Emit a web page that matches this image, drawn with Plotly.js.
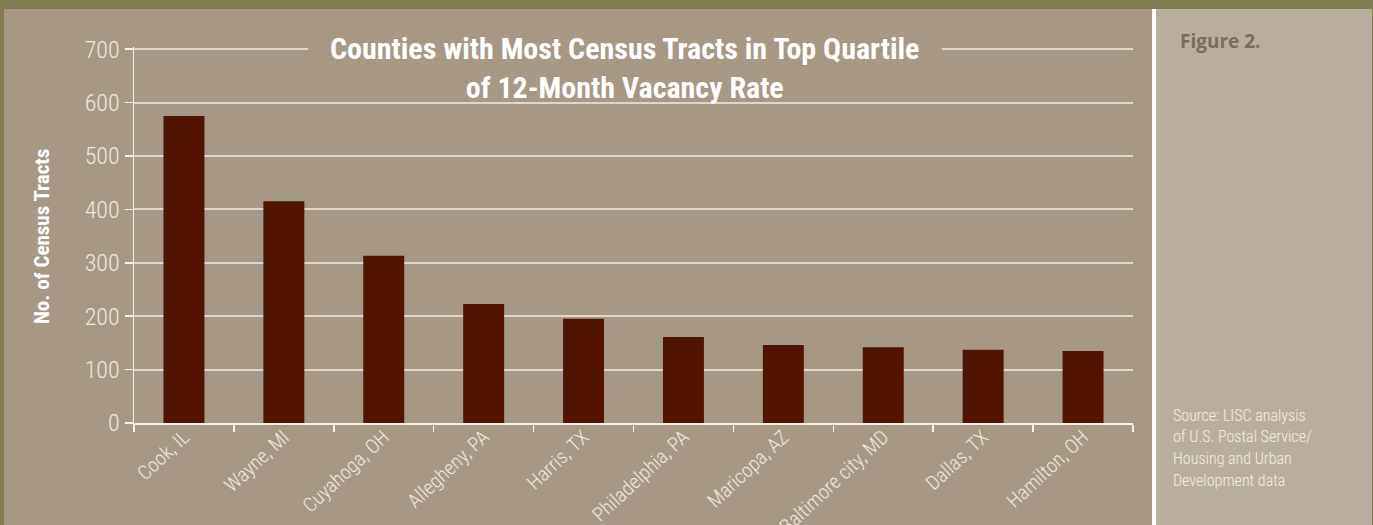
<!DOCTYPE html>
<html>
<head>
<meta charset="utf-8">
<script src="https://cdn.plot.ly/plotly-3.0.1.min.js"></script>
<style>
html,body{margin:0;padding:0;background:#807c52;}
#chart{width:1373px;height:525px;}
</style>
</head>
<body>
<div id="chart"></div>
<script>
const counties = ["Cook, IL","Wayne, MI","Cuyahoga, OH","Allegheny, PA","Harris, TX","Philadelphia, PA","Maricopa, AZ","Baltimore city, MD","Dallas, TX","Hamilton, OH"];
const tracts = [575, 415, 313, 223, 195, 161, 146, 142, 137, 135];
const yTicks = [0, 100, 200, 300, 400, 500, 600, 700];
const chartTitle = "Counties with Most Census Tracts in Top Quartile<br>of 12-Month Vacancy Rate";
const yTitle = "No. of Census Tracts";
const figureLabel = "Figure 2.";
const sourceLines = ["Source: LISC analysis", "of U.S. Postal Service/", "Housing and Urban", "Development data"];

const W = 1373, H = 525;
const px = v => v / W;
const py = v => (H - v) / H;

const NARROW = "'Roboto Condensed', 'DejaVu Sans Condensed', 'Liberation Sans', sans-serif";
const light = "#efe9e2";
const BG = "#a69885";

const annotations = [
  {text: chartTitle, xref: "paper", yref: "paper", x: px(624), y: py(68), xanchor: "center", yanchor: "middle",
   showarrow: false, align: "center",
   font: {family: NARROW, size: 30, color: "#ffffff", weight: 700}},
  {text: yTitle, xref: "paper", yref: "paper", x: px(42), y: py(237), xanchor: "center", yanchor: "middle",
   showarrow: false, textangle: -90,
   font: {family: NARROW, size: 21, color: "#ffffff", weight: 700}},
  {text: figureLabel, xref: "paper", yref: "paper", x: px(1178), y: py(41), xanchor: "left", yanchor: "middle",
   showarrow: false, font: {family: "'Open Sans', 'Noto Sans', sans-serif", size: 19, color: "#7d6c5b", weight: 700}}
];
sourceLines.forEach((t, i) => {
  annotations.push({text: t, xref: "paper", yref: "paper", x: px(1171), y: py(415 + i * 21.7), xanchor: "left", yanchor: "middle",
    showarrow: false, font: {family: NARROW, size: 16, color: "#f3eee7", weight: 300}});
});

const shapes = [
  {type: "rect", xref: "paper", yref: "paper", x0: px(4), x1: px(1152), y0: 0, y1: py(9), fillcolor: BG, line: {width: 0}, layer: "below"},
  {type: "rect", xref: "paper", yref: "paper", x0: px(1152), x1: px(1156), y0: 0, y1: py(9), fillcolor: "#ffffff", line: {width: 0}, layer: "below"},
  {type: "rect", xref: "paper", yref: "paper", x0: px(1156), x1: px(1372), y0: 0, y1: py(9), fillcolor: "#b9ae9d", line: {width: 0}, layer: "below"},
  // gap in the top grid line behind the title
  {type: "rect", xref: "paper", yref: "paper", x0: px(308), x1: px(942), y0: py(56), y1: py(42), fillcolor: BG, line: {width: 0}, layer: "above"}
];

const trace = {
  type: "bar", x: counties, y: tracts, width: 0.41,
  marker: {color: "#501400", line: {width: 0}},
  hoverinfo: "x+y"
};

const layout = {
  width: W, height: H,
  margin: {l: 0, r: 0, t: 0, b: 0},
  paper_bgcolor: "#807c52",
  plot_bgcolor: "rgba(0,0,0,0)",
  showlegend: false,
  xaxis: {
    domain: [px(134), px(1133)], automargin: false,
    showline: true, linecolor: "#f4f0ea", linewidth: 1.5,
    ticks: "outside", tickson: "boundaries", ticklen: 7, tickcolor: "#f4f0ea", tickwidth: 1.5,
    ticklabelstandoff: -7,
    tickangle: -43, tickfont: {family: NARROW, size: 20, color: light, weight: 300},
    showgrid: false, fixedrange: true
  },
  yaxis: {
    domain: [py(423), py(47)], automargin: false,
    range: [0, 704], tickvals: yTicks, ticktext: yTicks.map(String),
    showline: true, linecolor: "#f4f0ea", linewidth: 1.5,
    ticks: "outside", ticklen: 8, tickcolor: "#f4f0ea", tickwidth: 1.5,
    tickfont: {family: NARROW, size: 24, color: light, weight: 300},
    showgrid: true, gridcolor: "#ddd7cf", gridwidth: 2,
    zeroline: false, fixedrange: true
  },
  shapes: shapes,
  annotations: annotations
};

Plotly.newPlot("chart", [trace], layout, {displayModeBar: false, staticPlot: true});
</script>
</body>
</html>
